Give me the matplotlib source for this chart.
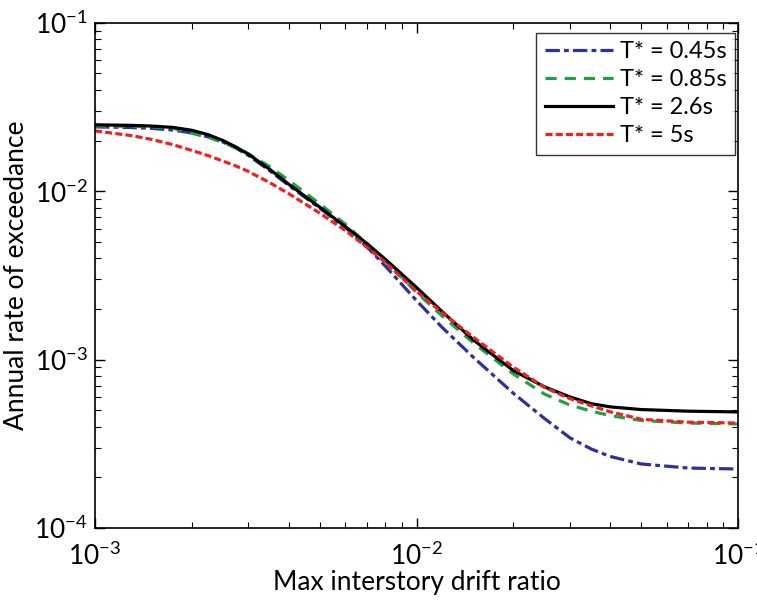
import numpy as np
import matplotlib.pyplot as plt

# drift ratio values (x) shared by all curves
drift = [0.001, 0.0013, 0.0015, 0.00175, 0.002, 0.00225, 0.0025, 0.00275, 0.003, 0.0035,
         0.004, 0.005, 0.006, 0.007, 0.008, 0.01, 0.012, 0.015, 0.02, 0.025, 0.03, 0.035,
         0.04, 0.05, 0.07, 0.1]

# annual rate of exceedance for each conditioning period
rate_045 = [0.0241, 0.02388, 0.0236, 0.02307, 0.02218, 0.0210, 0.01959, 0.01799, 0.0163,
            0.0132, 0.01085, 0.00793, 0.0061, 0.00468, 0.00359, 0.00224, 0.001556, 0.001035,
            0.000631, 0.000447, 0.000343, 0.000294, 0.000266, 0.00024, 0.000227, 0.000224]
rate_085 = [0.0244, 0.0243, 0.0241, 0.02366, 0.0221, 0.0209, 0.0195, 0.01807, 0.01667,
            0.01396, 0.01161, 0.00841, 0.00638, 0.00488, 0.00384, 0.00251, 0.00182, 0.00126,
            0.000822, 0.000624, 0.000537, 0.000494, 0.000465, 0.000435, 0.00042, 0.000415]
rate_26 = [0.0248, 0.0246, 0.02437, 0.02392, 0.0230, 0.02165, 0.02, 0.01825, 0.0166,
           0.01345, 0.01102, 0.00804, 0.00617, 0.0049, 0.00394, 0.00268, 0.00193, 0.001312,
           0.000861, 0.000689, 0.0006, 0.000547, 0.000524, 0.000505, 0.000494, 0.000489]
rate_5 = [0.0228, 0.02138, 0.0203, 0.01888, 0.01746, 0.01626, 0.0151, 0.01409, 0.01309,
          0.01122, 0.00968, 0.00741, 0.00585, 0.00466, 0.00378, 0.00254, 0.0019, 0.00136,
          0.000902, 0.000684, 0.000586, 0.000531, 0.00049, 0.000442, 0.000425, 0.00042]

labels = ["T* = 0.45s", "T* = 0.85s", "T* = 2.6s", "T* = 5s"]

plt.rcParams['font.family'] = ['Lato', 'DejaVu Sans']
plt.rcParams['mathtext.fontset'] = 'custom'
plt.rcParams['mathtext.rm'] = 'Lato'
plt.rcParams['mathtext.it'] = 'Lato:italic'

fig = plt.figure(figsize=(7.57, 6.0), dpi=100)
ax = fig.add_axes([0.1255, 0.12, 0.8495, 0.842])

lw = 2.3
ax.plot(drift, rate_045, color='#2f2f9f', lw=lw, dashes=(4.5, 1.3, 1.5, 1.3), label=labels[0])
ax.plot(drift, rate_085, color='#1fa042', lw=lw, dashes=(3.5, 2.5), label=labels[1])
ax.plot(drift, rate_26, color='black', lw=lw, label=labels[2])
ax.plot(drift, rate_5, color='#f02020', lw=lw, dashes=(2.2, 1.0), label=labels[3])

ax.set_xscale('log')
ax.set_yscale('log')
ax.set_xlim(1e-3, 1e-1)
ax.set_ylim(1e-4, 1e-1)

ax.tick_params(which='both', direction='in', top=True, right=True, labelsize=19)
ax.tick_params(which='major', length=7, width=1)
ax.tick_params(which='minor', length=4, width=0.8)
ax.tick_params(axis='x', pad=10)
ax.tick_params(axis='y', pad=5)
for s in ax.spines.values():
    s.set_linewidth(1.2)

ax.set_xlabel("Max interstory drift ratio", fontsize=19, labelpad=0)
ax.set_ylabel("Annual rate of exceedance", fontsize=19, labelpad=4)

leg = ax.legend(loc='upper right', bbox_to_anchor=(0.9953, 0.980), borderaxespad=0,
                fontsize=17, frameon=True, fancybox=False, edgecolor='black',
                handlelength=2.9, borderpad=0.35, labelspacing=0.3, handletextpad=0.3)
leg.get_frame().set_linewidth(1.0)

fig.savefig("out.png", dpi=100)
